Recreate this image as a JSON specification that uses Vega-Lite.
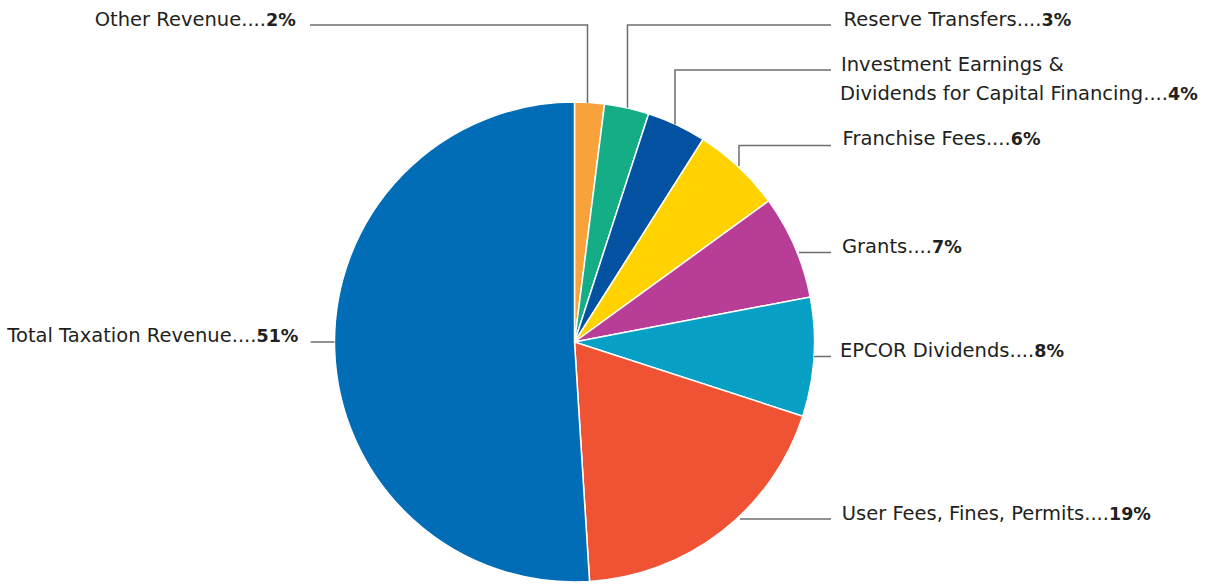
{
  "$schema": "https://vega.github.io/schema/vega-lite/v6.json",
  "width": 1205,
  "height": 584,
  "autosize": "none",
  "padding": 0,
  "background": "#ffffff",
  "config": {"view": {"stroke": null}},
  "datasets": {
    "slices": [
      {"name": "Other Revenue", "line": "Other Revenue", "value": 2, "seq": 1, "lx": -128.54, "ly": 131.67},
      {"name": "Reserve Transfers", "line": "Reserve Transfers", "value": 3, "seq": 2, "lx": 194.59, "ly": 131.67},
      {"name": "Investment Earnings & Dividends for Capital Financing", "line": "Dividends for Capital Financing", "value": 4, "seq": 3, "lx": 247.29, "ly": 100.83},
      {"name": "Franchise Fees", "line": "Franchise Fees", "value": 6, "seq": 4, "lx": 181.75, "ly": 82.08},
      {"name": "Grants", "line": "Grants", "value": 7, "seq": 5, "lx": 148.96, "ly": 37.08},
      {"name": "EPCOR Dividends", "line": "EPCOR Dividends", "value": 8, "seq": 6, "lx": 191.57, "ly": -6.25},
      {"name": "User Fees, Fines, Permits", "line": "User Fees, Fines, Permits", "value": 19, "seq": 7, "lx": 222.71, "ly": -74.17},
      {"name": "Total Taxation Revenue", "line": "Total Taxation Revenue", "value": 51, "seq": 8, "lx": -132.5, "ly": 0}
    ],
    "extraLines": [
      {"text": "Investment Earnings &", "lx": 111.04, "ly": 112.92}
    ],
    "leaders": [
      {"name": "Other Revenue", "pt": 1, "lx": -110.21, "ly": 132.08},
      {"name": "Other Revenue", "pt": 2, "lx": 5.42, "ly": 132.08},
      {"name": "Other Revenue", "pt": 3, "lx": 5.42, "ly": 99.6},
      {"name": "Reserve Transfers", "pt": 1, "lx": 22.08, "ly": 97.6},
      {"name": "Reserve Transfers", "pt": 2, "lx": 22.08, "ly": 132.08},
      {"name": "Reserve Transfers", "pt": 3, "lx": 106.875, "ly": 132.08},
      {"name": "Investment", "pt": 1, "lx": 41.875, "ly": 90.6},
      {"name": "Investment", "pt": 2, "lx": 41.875, "ly": 113.33},
      {"name": "Investment", "pt": 3, "lx": 106.875, "ly": 113.33},
      {"name": "Franchise Fees", "pt": 1, "lx": 68.54, "ly": 73.3},
      {"name": "Franchise Fees", "pt": 2, "lx": 68.54, "ly": 81.875},
      {"name": "Franchise Fees", "pt": 3, "lx": 106.875, "ly": 81.875},
      {"name": "Grants", "pt": 1, "lx": 93.54, "ly": 37.29},
      {"name": "Grants", "pt": 2, "lx": 106.875, "ly": 37.29},
      {"name": "EPCOR Dividends", "pt": 1, "lx": 99.79, "ly": -6.04},
      {"name": "EPCOR Dividends", "pt": 2, "lx": 106.875, "ly": -6.04},
      {"name": "User Fees", "pt": 1, "lx": 68.96, "ly": -73.75},
      {"name": "User Fees", "pt": 2, "lx": 106.875, "ly": -73.75},
      {"name": "Total Taxation Revenue", "pt": 1, "lx": -109.92, "ly": 0},
      {"name": "Total Taxation Revenue", "pt": 2, "lx": -100.0, "ly": 0}
    ]
  },
  "layer": [
    {
      "data": {"name": "slices"},
      "mark": {"type": "arc", "outerRadius": 240, "stroke": "#ffffff", "strokeWidth": 1.5},
      "encoding": {
        "x": {"datum": 0, "type": "quantitative", "scale": {"domain": [-239.375, 262.708], "nice": false, "zero": false}, "axis": null},
        "y": {"datum": 0, "type": "quantitative", "scale": {"domain": [-100.833, 142.5], "nice": false, "zero": false}, "axis": null},
        "theta": {"field": "value", "type": "quantitative", "stack": true},
        "order": {"field": "seq", "type": "quantitative"},
        "color": {
          "field": "name",
          "type": "nominal",
          "scale": {
            "domain": ["Other Revenue", "Reserve Transfers", "Investment Earnings & Dividends for Capital Financing", "Franchise Fees", "Grants", "EPCOR Dividends", "User Fees, Fines, Permits", "Total Taxation Revenue"],
            "range": ["#F7A23B", "#14AD86", "#0352A2", "#FFD200", "#B73D97", "#09A0C6", "#EF5333", "#006DB6"]
          },
          "legend": null
        }
      }
    },
    {
      "data": {"name": "leaders"},
      "mark": {"type": "line", "color": "#6d6e71", "strokeWidth": 1.5, "interpolate": "linear"},
      "encoding": {
        "x": {"field": "lx", "type": "quantitative", "scale": {"domain": [-239.375, 262.708], "nice": false, "zero": false}, "axis": null},
        "y": {"field": "ly", "type": "quantitative", "scale": {"domain": [-100.833, 142.5], "nice": false, "zero": false}, "axis": null},
        "detail": {"field": "name", "type": "nominal"},
        "order": {"field": "pt", "type": "quantitative"}
      }
    },
    {
      "data": {"name": "slices"},
      "transform": [{"calculate": "datum.line + '....'", "as": "nameText"}],
      "mark": {"type": "text", "align": "right", "baseline": "alphabetic", "font": "DejaVu Sans", "fontSize": 19.5, "color": "#231f20"},
      "encoding": {
        "x": {"field": "lx", "type": "quantitative", "scale": {"domain": [-239.375, 262.708], "nice": false, "zero": false}, "axis": null},
        "y": {"field": "ly", "type": "quantitative", "scale": {"domain": [-100.833, 142.5], "nice": false, "zero": false}, "axis": null},
        "text": {"field": "nameText", "type": "nominal"}
      }
    },
    {
      "data": {"name": "slices"},
      "transform": [{"calculate": "datum.value + '%'", "as": "pctText"}],
      "mark": {"type": "text", "align": "left", "baseline": "alphabetic", "font": "DejaVu Sans", "fontSize": 17.5, "fontWeight": "bold", "color": "#231f20"},
      "encoding": {
        "x": {"field": "lx", "type": "quantitative", "scale": {"domain": [-239.375, 262.708], "nice": false, "zero": false}, "axis": null},
        "y": {"field": "ly", "type": "quantitative", "scale": {"domain": [-100.833, 142.5], "nice": false, "zero": false}, "axis": null},
        "text": {"field": "pctText", "type": "nominal"}
      }
    },
    {
      "data": {"name": "extraLines"},
      "mark": {"type": "text", "align": "left", "baseline": "alphabetic", "font": "DejaVu Sans", "fontSize": 19.5, "color": "#231f20"},
      "encoding": {
        "x": {"field": "lx", "type": "quantitative", "scale": {"domain": [-239.375, 262.708], "nice": false, "zero": false}, "axis": null},
        "y": {"field": "ly", "type": "quantitative", "scale": {"domain": [-100.833, 142.5], "nice": false, "zero": false}, "axis": null},
        "text": {"field": "text", "type": "nominal"}
      }
    }
  ]
}
